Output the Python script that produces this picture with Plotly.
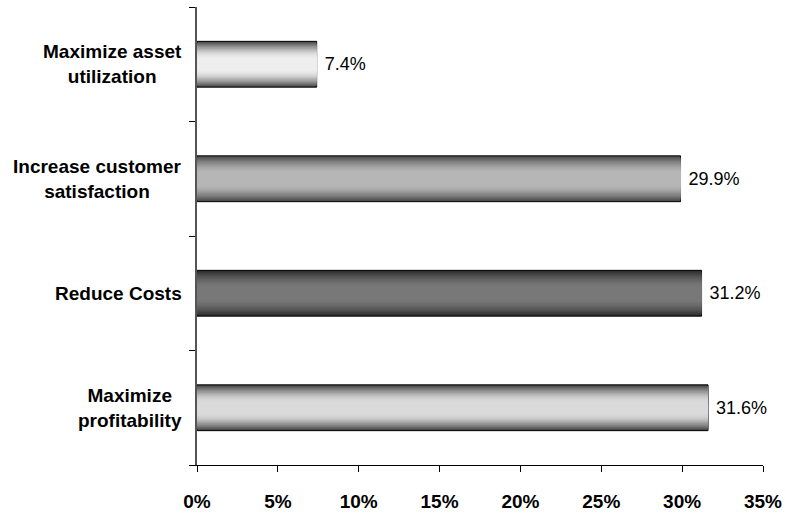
import plotly.graph_objects as go
import math

# Data (bottom to top in plot order)
categories = ["Maximize<br>profitability", "Reduce Costs",
              "Increase customer<br>satisfaction", "Maximize asset<br>utilization"]
values = [31.6, 31.2, 29.9, 7.4]
labels = ["31.6%", "31.2%", "29.9%", "7.4%"]
x_ticks = [0, 5, 10, 15, 20, 25, 30, 35]
x_ticklabels = ["0%", "5%", "10%", "15%", "20%", "25%", "30%", "35%"]

# per-bar gradient colours (edge, centre) as grey levels
edge_grey = [70, 45, 75, 75]
centre_grey = [218, 120, 182, 238]

FONT = "Liberation Sans Narrow, Arial Narrow, Liberation Sans, Arial, sans-serif"
BAR_W = 0.4
N = 22

fig = go.Figure()
for k in range(N):
    d = k / N
    f = math.sin(math.pi / 2 * min(1.0, d / 0.75))
    cols = []
    for e, c in zip(edge_grey, centre_grey):
        g = int(round(e + (c - e) * f))
        cols.append(f"rgb({g},{g},{g})")
    w = BAR_W * (N - k) / N
    outer = k == 0
    fig.add_trace(go.Bar(
        y=categories, x=values, orientation="h",
        width=[w] * len(values),
        marker=dict(color=cols,
                    line=dict(color="black", width=1 if outer else 0)),
        text=[" " + t for t in labels] if outer else None,
        textposition="outside" if outer else "none",
        textfont=dict(family=FONT, size=18, color="black"),
        constraintext="none",
        cliponaxis=False,
        showlegend=False,
        hoverinfo="skip",
    ))

for cat in categories:
    fig.add_annotation(
        x=0, xref="paper", y=cat, yref="y",
        text=cat, showarrow=False, xanchor="right", xshift=-13,
        align="center",
        font=dict(family=FONT, size=19, color="black", weight="bold"),
    )

fig.update_layout(
    width=785, height=516,
    margin=dict(l=197, r=22, t=7, b=51, autoexpand=False),
    barmode="overlay",
    plot_bgcolor="white", paper_bgcolor="white",
    font=dict(family=FONT, color="black"),
)
fig.update_xaxes(
    range=[0, 35], tickvals=x_ticks, ticktext=x_ticklabels,
    showgrid=False, zeroline=False, automargin=False,
    showline=True, linecolor="black", linewidth=1,
    ticks="outside", ticklen=6, tickcolor="black",
    tickfont=dict(family=FONT, size=19, color="black", weight="bold"),
    ticklabelstandoff=13,
)
fig.update_yaxes(
    categoryorder="array", categoryarray=categories,
    range=[-0.5, 3.5], showgrid=False, zeroline=False, automargin=False,
    showline=True, linecolor="#555555", linewidth=1.5,
    ticks="outside", ticklen=6, tickcolor="black", tickson="boundaries",
    showticklabels=False,
)

fig.write_html("out.html")
